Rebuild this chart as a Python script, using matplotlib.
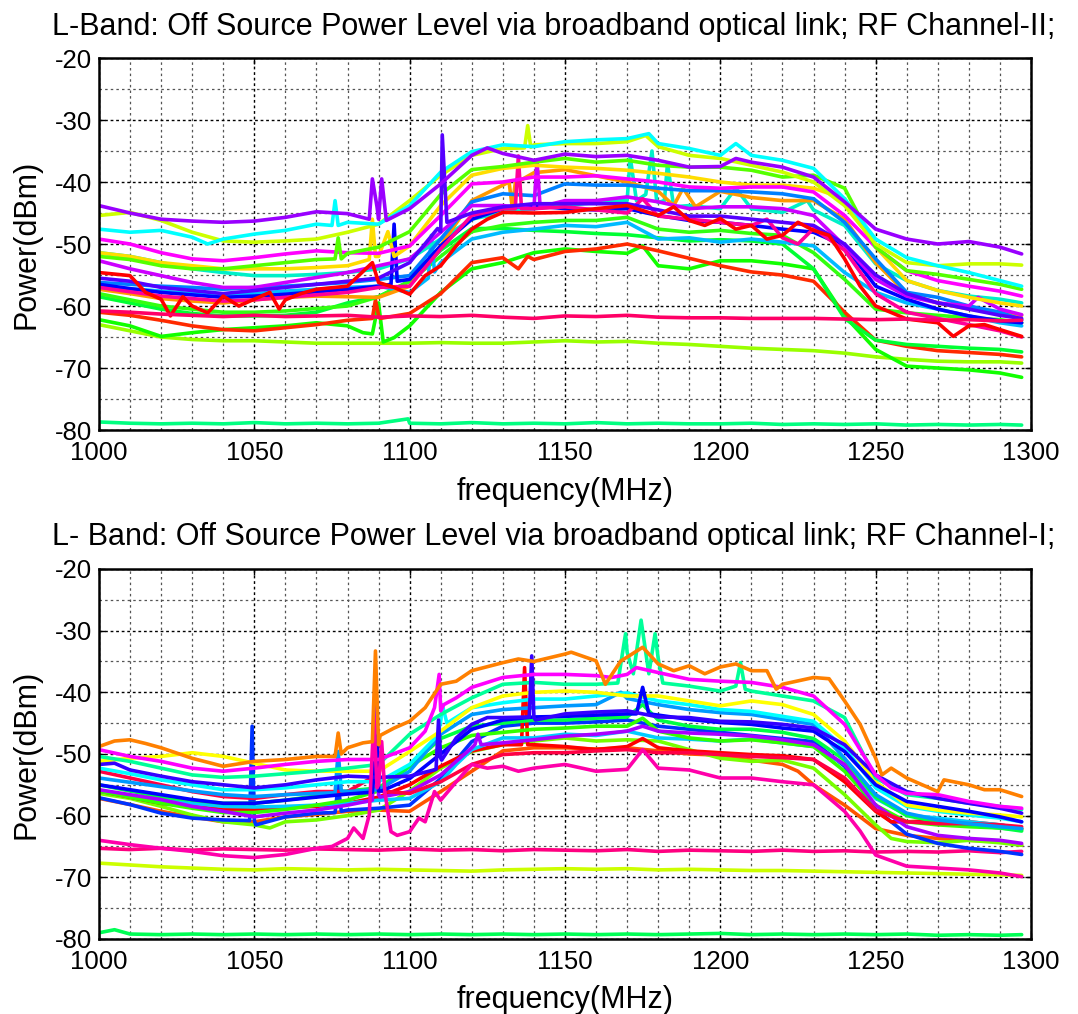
import matplotlib
matplotlib.use('Agg')
import matplotlib.pyplot as plt
from matplotlib.ticker import MultipleLocator

plt.rcParams['font.family'] = ['Liberation Sans', 'DejaVu Sans']
plt.rcParams['axes.unicode_minus'] = False

# common frequency grid (MHz)
FREQ = [1000, 1010, 1020, 1030, 1040, 1050, 1060, 1070, 1080, 1090,
        1100, 1110, 1120, 1130, 1140, 1150, 1160, 1170, 1180, 1190,
        1200, 1210, 1220, 1230, 1240, 1250, 1260, 1270, 1280, 1290, 1297]

TITLE_TOP = 'L-Band: Off Source Power Level via broadband optical link; RF Channel-II;'
TITLE_BOT = 'L- Band: Off Source Power Level via broadband optical link; RF Channel-I;'
XLABEL = 'frequency(MHz)'
YLABEL = 'Power(dBm)'
XTICKS = [1000, 1050, 1100, 1150, 1200, 1250, 1300]
YTICKS = [-80, -70, -60, -50, -40, -30, -20]

# ---------------- top panel (RF Channel-II) ----------------
t_lime_flat = [-63.0,-64.0,-65.0,-65.4,-65.6,-65.6,-65.8,-66.0,-66.0,-66.0,
               -66.0,-65.9,-66.0,-66.0,-65.8,-65.6,-65.8,-65.7,-66.0,-66.2,
               -66.5,-66.8,-67.0,-67.2,-67.6,-68.2,-68.6,-68.9,-69.0,-69.0,-69.2]
t_spring_flat = [-78.7,-78.9,-79.0,-78.9,-79.0,-78.8,-79.0,-78.9,-79.0,-78.9,
                 -78.9,-79.0,-78.8,-79.0,-78.9,-79.0,-78.8,-79.0,-78.9,-79.0,
                 -79.0,-78.9,-79.1,-79.0,-79.1,-79.0,-79.2,-79.1,-79.2,-79.1,-79.2]
t_spring_x = [(1099.5, -78.2)]
t_pink_flat = [-60.8,-61.0,-61.3,-61.5,-61.7,-61.5,-61.7,-61.6,-61.5,-61.8,
               -61.6,-61.7,-61.5,-61.8,-62.0,-61.6,-61.7,-61.5,-61.8,-61.9,
               -61.9,-62.0,-62.0,-62.0,-62.1,-62.2,-62.1,-62.3,-62.2,-62.4,-62.3]
t_green_low = [-62.2,-63.2,-64.9,-64.3,-63.8,-63.5,-63.2,-62.7,-63.2,-59.5,
               -63.2,-57.8,-54.0,-53.0,-51.4,-50.8,-51.2,-51.5,-53.5,-54.0,
               -52.7,-52.7,-53.2,-54.0,-61.6,-67.0,-69.7,-70.0,-70.3,-70.8,-71.5]
t_green_low_x = [(1085, -64.3), (1088, -64.5), (1091.5, -65.8), (1095, -65.1), (1175, -50.3)]
t_red_low = [-61.0,-61.5,-62.3,-63.2,-63.8,-64.0,-63.5,-63.0,-62.3,-61.5,
             -61.2,-58.0,-53.0,-52.2,-52.5,-51.2,-50.8,-50.0,-51.1,-52.3,
             -53.5,-54.5,-55.0,-56.0,-61.0,-65.5,-66.5,-67.2,-67.5,-67.8,-68.2]
t_red_low_x = [(1088, -62.0), (1089, -59.0), (1090.5, -62.0), (1135, -54.0), (1138, -52.0)]
t_green_b = [-58.5,-59.5,-60.5,-61.2,-61.6,-61.6,-61.5,-61.0,-59.5,-58.5,
             -56.0,-51.0,-47.5,-47.5,-47.8,-48.0,-48.3,-48.5,-49.0,-49.5,
             -49.3,-49.5,-50.0,-54.0,-62.0,-65.5,-66.2,-66.5,-66.8,-67.0,-67.4]
t_green_a = [-58.0,-59.0,-60.0,-60.5,-61.0,-61.0,-60.8,-60.4,-60.0,-58.5,
             -56.0,-52.0,-48.0,-47.0,-46.5,-46.2,-46.2,-45.7,-47.6,-48.1,
             -47.8,-48.3,-48.6,-51.4,-55.7,-60.5,-61.1,-61.5,-61.9,-62.2,-62.7]
t_sky = [-56.8,-57.2,-57.6,-58.0,-58.2,-58.0,-57.6,-57.3,-57.0,-56.8,
         -57.8,-53.0,-49.2,-48.1,-47.6,-47.0,-47.2,-46.5,-49.2,-49.0,
         -49.7,-49.2,-49.7,-50.3,-54.6,-57.8,-59.5,-60.5,-61.6,-62.7,-63.2]
t_sky_x = [(1106, -55.5), (1107, -48.6), (1108, -54.5)]
t_turq = [-51.4,-52.0,-53.0,-54.0,-54.6,-55.1,-55.1,-54.9,-54.6,-54.0,
          -52.4,-49.2,-46.0,-44.9,-44.3,-43.8,-43.3,-43.0,-43.3,-43.8,
          -44.3,-44.3,-44.9,-44.5,-47.0,-53.2,-55.9,-57.5,-58.4,-58.9,-59.5]
t_turq_x = [(1169, -43.0), (1171, -36.0), (1173, -43.0), (1176, -42.0), (1178, -35.0),
            (1179.5, -43.0), (1182, -43.0), (1183, -37.0), (1185, -44.0), (1205, -41.0), (1228, -43.0)]
t_orange = [-57.3,-58.0,-58.8,-59.2,-59.5,-59.0,-58.6,-58.4,-58.5,-58.6,
            -56.8,-50.3,-43.0,-40.5,-38.5,-38.0,-39.0,-40.0,-41.5,-42.5,
            -41.5,-42.5,-43.0,-43.0,-46.0,-53.0,-58.0,-59.5,-60.5,-61.0,-61.5]
t_orange_x = [(1132, -40.0), (1133, -44.0), (1134, -40.2), (1185, -43.8), (1188, -41.0), (1192, -44.0)]
t_azure = [-56.2,-56.5,-56.8,-57.0,-57.3,-57.0,-56.8,-56.5,-56.2,-55.7,
           -55.1,-49.2,-43.2,-41.9,-42.2,-40.3,-40.5,-40.5,-41.0,-41.4,
           -41.4,-41.6,-41.9,-42.7,-46.5,-52.4,-57.8,-58.6,-60.0,-61.0,-62.2]
t_blue = [-56.5,-57.2,-57.8,-58.2,-58.6,-58.4,-58.1,-57.7,-57.3,-56.8,
          -55.7,-50.3,-46.0,-44.3,-43.8,-44.3,-44.5,-44.3,-45.4,-46.2,
          -46.5,-47.0,-47.6,-48.1,-50.3,-56.8,-58.9,-60.5,-61.6,-62.4,-62.7]
t_blue_x = [(1094, -56.5), (1095, -46.8), (1096, -56.0)]
t_indigo = [-55.5,-56.0,-57.0,-57.5,-58.0,-57.5,-57.0,-56.5,-56.0,-55.5,
            -53.0,-48.0,-45.0,-44.0,-43.5,-43.5,-43.5,-43.5,-44.5,-45.5,
            -45.5,-46.0,-46.5,-47.0,-50.0,-55.0,-58.0,-59.5,-60.5,-61.5,-62.0]
t_indigo_x = [(1109, -47.5), (1110.5, -32.4), (1112, -46.5)]
t_violet2 = [-52.7,-54.0,-55.1,-56.2,-57.0,-57.0,-56.2,-55.4,-54.6,-53.5,
             -52.4,-48.1,-43.8,-43.8,-44.3,-43.0,-43.0,-42.4,-43.2,-44.3,
             -44.0,-44.0,-44.3,-45.4,-50.3,-55.7,-58.4,-59.5,-60.0,-60.5,-61.4]
t_violet2_x = [(1141, -36.5), (1142, -44.0), (1283, -58.6)]
t_pink = [-57.0,-57.7,-58.4,-58.8,-59.2,-59.0,-58.6,-58.2,-57.8,-57.0,
          -56.8,-50.8,-45.4,-44.3,-44.3,-44.0,-44.5,-45.0,-45.5,-46.0,
          -46.5,-47.0,-49.0,-47.5,-51.0,-58.0,-61.0,-62.0,-63.0,-64.0,-65.0]
t_pink_x = [(1134, -44.3), (1135, -35.8), (1136, -44.3), (1175, -42.7), (1215, -46.0), (1225, -50.0)]
t_yellow = [-51.4,-52.0,-53.0,-53.5,-54.0,-54.0,-54.0,-53.8,-53.5,-52.0,
            -50.3,-43.8,-38.9,-37.8,-37.3,-37.6,-37.8,-38.1,-38.6,-39.2,
            -40.0,-40.5,-40.5,-41.0,-42.7,-50.5,-55.9,-57.5,-58.6,-59.5,-60.0]
t_yellow_x = [(1087, -52.5), (1088, -46.0), (1089, -52.0), (1093, -48.0), (1095, -52.0)]
t_magenta = [-49.2,-50.0,-51.4,-52.4,-52.7,-52.2,-51.6,-51.1,-51.4,-51.5,
             -50.3,-45.4,-40.3,-40.0,-39.2,-39.2,-39.0,-39.5,-40.0,-40.8,
             -41.0,-40.8,-40.8,-41.6,-45.4,-50.5,-54.3,-55.9,-56.8,-57.6,-58.4]
t_green = [-52.0,-52.5,-53.5,-54.0,-54.0,-53.5,-53.0,-52.5,-51.5,-50.5,
           -48.0,-42.0,-38.0,-37.5,-36.8,-36.2,-36.8,-36.5,-37.3,-37.6,
           -37.6,-38.1,-39.2,-38.9,-41.0,-50.5,-54.3,-54.9,-55.7,-56.5,-57.3]
t_green_x = [(1076, -52.4), (1077, -49.0), (1078, -52.4)]
t_ygreen = [-45.4,-44.9,-46.2,-48.1,-49.5,-49.7,-49.5,-49.2,-48.1,-46.8,
            -43.0,-38.9,-35.7,-34.6,-34.0,-33.8,-33.8,-33.5,-34.3,-35.7,
            -36.2,-37.3,-38.4,-40.0,-43.8,-50.0,-53.0,-53.5,-53.2,-53.2,-53.4]
t_ygreen_x = [(1137, -34.5), (1138, -30.9), (1139, -34.4), (1176, -32.5)]
t_cyan = [-47.6,-48.1,-47.8,-48.9,-49.2,-48.4,-47.8,-46.8,-46.5,-46.8,
          -43.8,-38.4,-35.1,-34.0,-34.3,-33.5,-33.2,-33.0,-33.8,-34.6,
          -35.7,-35.7,-36.5,-37.8,-42.7,-49.2,-52.2,-53.5,-54.6,-55.9,-56.8]
t_cyan_x = [(1035, -50.0), (1075, -47.0), (1076, -43.0), (1077, -47.0), (1177, -32.2), (1205, -33.8)]
t_violet = [-43.8,-45.0,-46.0,-46.3,-46.5,-46.3,-45.7,-44.8,-45.1,-46.0,
            -44.3,-40.3,-35.7,-35.4,-36.5,-35.5,-35.9,-35.7,-36.5,-37.6,
            -37.5,-36.8,-37.6,-39.2,-43.2,-47.6,-49.2,-50.0,-49.6,-50.5,-51.6]
t_violet_x = [(1087, -46.0), (1088, -39.5), (1089.5, -44.0), (1091, -39.5), (1092.5, -46.2),
              (1125, -34.5), (1205, -36.2)]
t_red = [-54.6,-55.1,-58.9,-60.0,-58.4,-58.9,-59.0,-57.3,-56.8,-56.2,
         -58.1,-53.5,-47.6,-44.9,-45.0,-44.9,-44.3,-43.8,-45.4,-46.2,
         -45.9,-47.0,-48.6,-47.8,-52.4,-60.0,-62.1,-62.7,-63.2,-63.8,-64.9]
t_red_x = [(1015, -57.8), (1023, -61.6), (1027, -58.5), (1035, -61.1), (1045, -60.0), (1055, -57.8),
           (1058, -60.5), (1065, -58.0), (1088, -53.0), (1095, -57.0), (1105, -55.1), (1115, -50.3),
           (1125, -46.0), (1185, -44.0), (1195, -47.0), (1205, -47.6), (1215, -49.2), (1225, -46.5),
           (1235, -48.6), (1245, -56.8), (1275, -64.9), (1285, -63.0)]

TOP = [
    (t_spring_flat, t_spring_x, '#00ff80'),
    (t_lime_flat, [], '#99ff00'),
    (t_green_low, t_green_low_x, '#11ff00'),
    (t_red_low, t_red_low_x, '#ff2a00'),
    (t_green_b, [], '#00ff33'),
    (t_green_a, [], '#33ff11'),
    (t_sky, t_sky_x, '#00bbff'),
    (t_turq, t_turq_x, '#00f0c8'),
    (t_orange, t_orange_x, '#ff9900'),
    (t_azure, [], '#0080ff'),
    (t_blue, t_blue_x, '#0000ff'),
    (t_violet2, t_violet2_x, '#cc00ff'),
    (t_pink, t_pink_x, '#ff0099'),
    (t_yellow, t_yellow_x, '#ffdd00'),
    (t_magenta, [], '#ff00ff'),
    (t_green, t_green_x, '#55ff00'),
    (t_ygreen, t_ygreen_x, '#ccff00'),
    (t_cyan, t_cyan_x, '#00ffff'),
    (t_indigo, t_indigo_x, '#5500ff'),
    (t_violet, t_violet_x, '#9900ff'),
    (t_red, t_red_x, '#ff0000'),
    (t_pink_flat, [], '#ff0066'),
]

# ---------------- bottom panel (RF Channel-I) ----------------
b_spring_flat = [-79.0,-79.2,-79.3,-79.2,-79.3,-79.2,-79.3,-79.2,-79.3,-79.2,
                 -79.3,-79.2,-79.3,-79.2,-79.3,-79.2,-79.3,-79.2,-79.3,-79.2,
                 -79.1,-79.3,-79.2,-79.3,-79.2,-79.3,-79.2,-79.4,-79.3,-79.4,-79.3]
b_spring_x = [(1005, -78.5)]
b_yg_flat = [-67.7,-68.0,-68.3,-68.5,-68.7,-68.8,-68.6,-68.7,-68.8,-68.7,
             -68.8,-68.9,-69.0,-68.8,-68.7,-68.6,-68.7,-68.6,-68.8,-68.7,
             -68.8,-68.9,-68.9,-69.0,-69.1,-69.2,-69.3,-69.4,-69.5,-69.6,-69.7]
b_pink_flat = [-65.3,-65.5,-65.3,-65.6,-65.4,-65.5,-65.6,-65.4,-65.5,-65.6,
               -65.4,-65.6,-65.5,-65.7,-65.5,-65.6,-65.7,-65.5,-65.8,-65.6,
               -65.7,-65.8,-65.6,-65.8,-65.7,-65.9,-65.8,-65.9,-65.7,-66.0,-65.8]
b_pink_low = [-64.0,-64.7,-65.3,-65.8,-66.5,-66.8,-66.3,-65.3,-63.7,-55.0,
              -62.6,-57.5,-51.7,-52.0,-52.3,-51.7,-52.8,-52.5,-52.3,-52.6,
              -53.9,-53.9,-54.5,-55.0,-59.3,-66.4,-68.2,-68.5,-68.8,-69.3,-69.9]
b_pink_low_x = [(1075, -65.0), (1082, -62.0), (1085, -63.7), (1087, -59.9), (1088.5, -44.1),
                (1089.5, -55.5), (1091, -48.0), (1092, -56.1), (1094, -62.6), (1096, -63.2),
                (1103, -60.4), (1105, -61.0), (1108, -56.1), (1115, -54.5), (1125, -52.3),
                (1135, -52.8), (1175, -49.3), (1245, -62.5)]
b_orange_red = [-57.2,-58.2,-59.3,-60.2,-61.0,-61.0,-60.2,-59.8,-59.3,-59.1,
                -59.3,-56.1,-52.8,-49.5,-49.0,-49.0,-49.2,-49.0,-49.5,-50.0,
                -50.2,-51.0,-51.7,-55.0,-58.3,-62.1,-63.2,-63.7,-64.0,-64.2,-64.8]
b_orange_red_x = [(1225, -52.8)]
b_lime = [-56.4,-57.2,-58.5,-59.9,-61.0,-61.5,-61.0,-60.7,-60.0,-59.1,
          -56.0,-52.3,-49.6,-48.5,-47.9,-47.4,-47.9,-47.7,-47.9,-49.3,
          -50.7,-51.2,-51.0,-52.3,-56.6,-61.5,-64.2,-64.4,-64.0,-64.4,-64.8]
b_lime_x = [(1055, -62.0), (1255, -63.7)]
b_blue_low = [-57.1,-58.2,-59.6,-60.4,-60.7,-60.8,-60.2,-59.6,-59.1,-58.8,
              -58.3,-54.0,-48.0,-45.5,-45.0,-45.0,-44.8,-44.5,-45.5,-46.0,
              -46.5,-47.0,-47.5,-48.0,-52.0,-59.0,-63.0,-64.5,-65.3,-65.8,-66.3]
b_blue_low_x = [(1048.5, -60.8), (1049.3, -45.5), (1050.5, -61.5),
                (1076, -59.5), (1077, -55.0), (1078, -59.3)]
b_red = [-56.0,-57.0,-58.0,-58.5,-59.0,-59.0,-58.7,-58.5,-58.0,-57.0,
         -55.0,-52.0,-49.5,-48.5,-48.5,-48.8,-49.3,-48.8,-49.0,-49.5,
         -49.8,-50.1,-50.3,-50.9,-54.5,-59.3,-61.0,-60.8,-61.0,-61.5,-62.1]
b_red_x = [(1136, -48.5), (1137, -36.0), (1138, -48.5), (1175, -47.5), (1255, -61.0)]
b_purple = [-55.8,-56.6,-57.4,-58.5,-59.3,-60.2,-59.6,-59.1,-58.3,-56.6,
            -56.1,-53.4,-49.0,-48.2,-47.7,-47.1,-46.8,-46.3,-46.3,-46.6,
            -46.8,-47.1,-47.7,-48.5,-51.7,-58.3,-61.8,-63.2,-63.7,-64.0,-64.5]
b_purple_x = [(1088, -57.5), (1089.3, -41.5), (1090.5, -57.0), (1121, -48.5), (1122, -46.8),
              (1123, -48.5), (1175, -45.5)]
b_sky = [-56.0,-56.8,-57.5,-58.0,-58.5,-58.6,-58.5,-58.3,-58.0,-57.5,
         -57.2,-54.5,-49.3,-47.4,-47.4,-46.8,-47.0,-46.3,-47.4,-47.6,
         -47.9,-47.6,-48.2,-48.8,-51.7,-57.2,-59.9,-60.4,-61.0,-61.5,-62.1]
b_sky_x = [(1115, -51.7)]
b_green = [-56.0,-57.0,-58.0,-58.8,-59.5,-59.5,-59.0,-58.3,-57.5,-56.0,
           -52.0,-49.0,-47.0,-46.5,-46.0,-45.8,-45.5,-45.5,-46.3,-47.4,
           -47.9,-47.7,-48.2,-48.8,-52.8,-58.3,-61.0,-61.5,-61.8,-62.0,-62.3]
b_green_x = [(1175, -44.2)]
b_green2 = [-55.0,-56.0,-57.0,-57.5,-58.0,-58.0,-57.5,-56.8,-56.0,-55.5,
            -52.0,-47.5,-45.5,-45.0,-44.5,-44.5,-44.2,-44.0,-44.5,-45.5,
            -46.0,-46.0,-46.5,-47.5,-51.0,-57.0,-60.0,-61.0,-61.5,-62.0,-62.5]
b_green2_x = [(1175, -42.0)]
b_crimson = [-52.8,-53.9,-55.0,-56.1,-56.9,-57.2,-56.6,-56.1,-56.1,-55.8,
             -56.4,-54.5,-51.7,-50.1,-49.8,-49.8,-49.5,-49.3,-49.8,-49.8,
             -50.1,-50.4,-50.6,-50.9,-53.9,-59.1,-61.0,-61.3,-61.3,-61.5,-61.8]
b_crimson_x = [(1089, -53.5), (1090.5, -56.0)]
b_azure = [-53.9,-54.6,-55.3,-56.0,-56.6,-56.9,-56.6,-56.4,-56.1,-55.8,
           -52.8,-46.8,-43.6,-42.8,-42.5,-42.2,-42.0,-41.0,-42.0,-42.8,
           -43.3,-43.6,-44.4,-45.2,-50.7,-56.6,-59.6,-60.7,-61.3,-61.8,-62.1]
b_azure_x = [(1076, -56.3), (1077, -49.6), (1078, -56.0), (1168, -40.0)]
b_cyan = [-52.3,-53.2,-54.2,-55.0,-55.8,-55.8,-55.5,-55.0,-54.5,-54.5,
          -51.7,-44.7,-42.5,-41.7,-41.1,-41.1,-40.6,-40.1,-41.4,-42.0,
          -42.8,-43.1,-43.9,-44.7,-49.0,-55.5,-58.5,-59.3,-59.9,-60.4,-61.0]
b_cyan_x = [(1109, -47.0), (1110.5, -42.0), (1112, -45.0)]
b_blue = [-55.0,-55.8,-56.6,-57.4,-58.0,-58.0,-57.5,-57.0,-56.5,-56.0,
          -54.0,-50.0,-46.0,-44.5,-44.0,-43.9,-43.7,-43.5,-43.7,-44.4,
          -44.9,-45.2,-45.8,-46.3,-49.6,-55.0,-57.7,-58.5,-59.3,-60.2,-61.0]
b_blue_x = [(1088, -56.2), (1089.5, -47.1), (1091, -56.0), (1173, -43.5), (1175, -39.2), (1177, -43.5)]
b_indigo = [-51.7,-52.6,-53.6,-54.5,-55.0,-55.5,-55.0,-54.2,-53.6,-53.8,
            -53.6,-50.7,-45.2,-44.1,-44.1,-43.5,-43.2,-43.0,-44.0,-44.1,
            -44.7,-44.8,-45.2,-45.8,-48.5,-53.4,-56.1,-57.2,-58.0,-58.8,-59.6]
b_indigo_x = [(1005, -51.5), (1108.5, -52.5), (1109.3, -44.5), (1110.3, -51.0), (1115, -47.4),
              (1125, -44.1), (1138.5, -44.0), (1139.3, -34.1), (1140.5, -44.5)]
b_yellow = [-51.2,-50.7,-50.4,-49.8,-50.4,-51.5,-52.6,-52.8,-52.8,-52.8,
            -49.6,-46.3,-42.5,-40.6,-40.0,-39.8,-40.0,-40.6,-40.6,-41.4,
            -42.2,-41.4,-42.0,-43.6,-47.9,-54.5,-58.3,-59.1,-59.6,-59.9,-60.2]
b_aqua = [-50.4,-51.2,-52.3,-53.4,-53.8,-53.6,-53.2,-52.8,-52.3,-51.7,
          -46.8,-43.6,-40.9,-38.7,-38.4,-38.7,-38.7,-33.5,-34.5,-39.0,
          -39.8,-39.8,-40.6,-41.4,-44.1,-53.9,-56.6,-57.2,-58.0,-58.5,-59.0]
b_aqua_x = [(1167, -38.5), (1169.5, -30.5), (1172, -37.0), (1174.5, -28.3), (1177, -37.0),
            (1179, -30.5), (1181.5, -38.5), (1205, -39.0), (1206.5, -35.2), (1208, -39.5)]
b_magenta = [-49.3,-50.4,-51.2,-52.3,-52.8,-52.3,-51.7,-51.2,-50.9,-50.9,
             -49.0,-43.0,-39.2,-37.6,-37.1,-37.1,-37.3,-37.1,-36.8,-37.9,
             -38.2,-38.4,-39.2,-40.6,-45.2,-53.4,-56.4,-56.6,-57.7,-58.5,-58.8]
b_magenta_x = [(1105, -46.3), (1108, -42.5), (1109.5, -37.1), (1111, -42.0), (1115, -40.9),
               (1125, -38.4), (1165, -37.6), (1173, -36.0), (1255, -55.5)]
b_orange = [-48.8,-47.7,-49.0,-50.7,-52.0,-51.2,-50.9,-50.4,-49.0,-48.5,
            -44.7,-38.7,-36.5,-35.2,-35.0,-33.8,-34.9,-34.3,-35.4,-35.7,
            -35.9,-36.5,-38.7,-37.6,-41.4,-50.7,-53.9,-56.1,-55.0,-55.8,-56.9]
b_orange_x = [(1005, -47.9), (1015, -48.3), (1045, -51.6), (1076, -50.4), (1077, -46.6), (1078, -50.0),
              (1085, -48.2), (1088, -48.0), (1089, -33.3), (1090.5, -47.0), (1095, -45.8), (1105, -42.5),
              (1115, -38.2), (1135, -34.6), (1152, -33.5), (1163, -38.7), (1168, -34.9), (1175, -32.7),
              (1185, -36.5), (1195, -37.0), (1205, -35.4), (1215, -36.5), (1218, -39.5), (1235, -37.8),
              (1245, -45.2), (1252, -53.4), (1255, -52.3), (1265, -55.0), (1272, -54.2), (1285, -55.8)]

BOT = [
    (b_spring_flat, b_spring_x, '#00ff55'),
    (b_yg_flat, [], '#ccff00'),
    (b_pink_flat, [], '#ff0080'),
    (b_orange_red, b_orange_red_x, '#ff5500'),
    (b_lime, b_lime_x, '#77ff00'),
    (b_blue_low, b_blue_low_x, '#0033ff'),
    (b_red, b_red_x, '#ff0000'),
    (b_sky, b_sky_x, '#00ccff'),
    (b_green, b_green_x, '#33ff00'),
    (b_green2, b_green2_x, '#00ff44'),
    (b_purple, b_purple_x, '#aa00ff'),
    (b_crimson, b_crimson_x, '#ff0044'),
    (b_azure, b_azure_x, '#0099ff'),
    (b_cyan, b_cyan_x, '#00ffff'),
    (b_yellow, [], '#ffff00'),
    (b_aqua, b_aqua_x, '#00ff99'),
    (b_blue, b_blue_x, '#0000ff'),
    (b_indigo, b_indigo_x, '#3300ff'),
    (b_magenta, b_magenta_x, '#ff00ff'),
    (b_pink_low, b_pink_low_x, '#ff00aa'),
    (b_orange, b_orange_x, '#ff8000'),
]


def merged(vals, extra):
    pts = sorted(list(zip(FREQ, vals)) + list(extra))
    return [p[0] for p in pts], [p[1] for p in pts]


def style_axes(ax):
    ax.set_xlim(1000, 1300)
    ax.set_ylim(-80, -20)
    ax.set_xticks(XTICKS)
    ax.set_yticks(YTICKS)
    ax.xaxis.set_minor_locator(MultipleLocator(10))
    ax.yaxis.set_minor_locator(MultipleLocator(5))
    ax.grid(True, which='major', color='black', linestyle=(0, (2, 2)), linewidth=1.0)
    ax.grid(True, which='minor', color='#555555', linestyle=(0, (2, 2.5)), linewidth=0.9)
    ax.set_axisbelow(True)
    ax.tick_params(which='major', direction='in', length=4, width=1, labelsize=18.5,
                   top=True, right=True)
    ax.tick_params(axis='x', which='major', pad=8)
    ax.tick_params(axis='y', which='major', pad=5)
    ax.tick_params(which='minor', length=0)
    for s in ax.spines.values():
        s.set_linewidth(1.8)
    ax.set_xlabel(XLABEL, fontsize=22)
    ax.set_ylabel(YLABEL, fontsize=22)
    ax.xaxis.set_label_coords(0.5, -0.125)
    ax.yaxis.set_label_coords(-0.062, 0.5)


fig = plt.figure(figsize=(10.78, 10.14), dpi=100)
ax1 = fig.add_axes([0.0918, 0.5759, 0.8646, 0.3669])
ax2 = fig.add_axes([0.0918, 0.0740, 0.8646, 0.3649])

for ax, group in ((ax1, TOP), (ax2, BOT)):
    for vals, extra, col in group:
        xs, ys = merged(vals, extra)
        ax.plot(xs, ys, color=col, linewidth=2.6, solid_joinstyle='round', solid_capstyle='round')
    style_axes(ax)

fig.text(52 / 1078, 1 - 27 / 1014, TITLE_TOP, fontsize=22, ha='left', va='center')
fig.text(52 / 1078, 1 - 537 / 1014, TITLE_BOT, fontsize=22, ha='left', va='center')

fig.savefig('out.png', dpi=100)
